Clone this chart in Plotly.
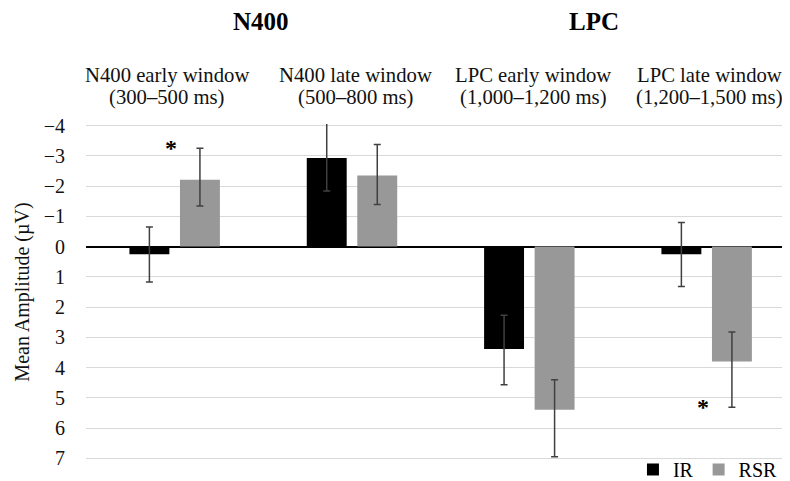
import plotly.graph_objects as go

categories = ["N400 early", "N400 late", "LPC early", "LPC late"]
cat_line1 = ["N400 early window", "N400 late window", "LPC early window", "LPC late window"]
cat_line2 = ["(300\u2013500 ms)", "(500\u2013800 ms)", "(1,000\u20131,200 ms)", "(1,200\u20131,500 ms)"]
ir_values = [0.25, -2.93, 3.38, 0.25]
ir_neg_end = [-0.65, -4.3, 2.27, -0.80]
ir_pos_end = [1.17, -1.84, 4.56, 1.32]
rsr_values = [-2.21, -2.35, 5.39, 3.80]
rsr_neg_end = [-3.25, -3.37, 4.40, 2.82]
rsr_pos_end = [-1.34, -1.39, 6.94, 5.31]
tick_values = [-4, -3, -2, -1, 0, 1, 2, 3, 4, 5, 6, 7]
group_titles = ["N400", "LPC"]
star_points = [("N400 early", -3.39), ("LPC late", 5.17)]

FONT = "Liberation Serif"
ERR_COLOR = "#404040"

# page body has an 8px margin: work in figure coordinates = reference - 8
OFF = 8
W, H = 790 - OFF, 481 - OFF
top_px, bot_px = 124 - OFF, 460.5 - OFF
left_px = 86 - OFF


def paper_y(ref_px):
    px = ref_px - OFF
    return (bot_px - px) / (bot_px - top_px)


def err(vals, neg, pos):
    return dict(type="data", symmetric=False,
                array=[p - v for v, p in zip(vals, pos)],
                arrayminus=[v - n for v, n in zip(vals, neg)],
                color=ERR_COLOR, thickness=1.5, width=3.5)


fig = go.Figure()
fig.add_trace(go.Bar(name="IR", x=categories, y=ir_values, marker_color="#000000",
                     marker_line_width=0, error_y=err(ir_values, ir_neg_end, ir_pos_end)))
fig.add_trace(go.Bar(name="RSR", x=categories, y=rsr_values, marker_color="#989898",
                     marker_line_width=0, error_y=err(rsr_values, rsr_neg_end, rsr_pos_end)))

annotations = []
shifts = [-8, 4, 4, 3]
for c, l1, l2, s in zip(categories, cat_line1, cat_line2, shifts):
    for txt, ypx in ((l1, 75), (l2, 97)):
        annotations.append(dict(x=c, y=paper_y(ypx), xref="x", yref="paper", text=txt, showarrow=False,
                                xshift=s, yanchor="middle",
                                font=dict(family=FONT, size=20.7, color="#111")))
annotations.append(dict(x=0.5, xref="x", y=paper_y(21), yref="paper", text="<b>" + group_titles[0] + "</b>",
                        showarrow=False, xshift=-2, yanchor="middle",
                        font=dict(family=FONT, size=25, color="#000")))
annotations.append(dict(x=2.5, xref="x", y=paper_y(21), yref="paper", text="<b>" + group_titles[1] + "</b>",
                        showarrow=False, xshift=-24, yanchor="middle",
                        font=dict(family=FONT, size=25, color="#000")))
for c, yv in star_points:
    annotations.append(dict(x=c, y=yv, xref="x", yref="y", text="<b>*</b>", showarrow=False,
                            xshift=-4, yshift=-4, font=dict(family=FONT, size=24, color="#000")))

fig.update_layout(
    width=W, height=H,
    margin=dict(l=left_px, r=0, t=top_px, b=H - bot_px, autoexpand=False),
    paper_bgcolor="white", plot_bgcolor="white",
    barmode="group", bargap=0.43, bargroupgap=0.21,
    font=dict(family=FONT, size=20, color="#111"),
    showlegend=True,
    legend=dict(orientation="h", x=0.99, xanchor="right", y=paper_y(470), yanchor="middle",
                font=dict(family=FONT, size=20, color="#000"), itemwidth=30,
                bgcolor="rgba(0,0,0,0)", tracegroupgap=0, itemsizing="constant"),
    annotations=annotations,
    xaxis=dict(range=[-0.5, 3.47], showticklabels=False, showgrid=False, zeroline=False,
               showline=False, ticks=""),
    yaxis=dict(range=[7.05, -4.05], tickvals=tick_values, showgrid=True, gridcolor="#d9d9d9",
               gridwidth=1, zeroline=True, zerolinecolor="#000000", zerolinewidth=1.5,
               showline=False, ticks="", ticklabelstandoff=20,
               tickfont=dict(family=FONT, size=20, color="#111"),
               title=dict(text="Mean Amplitude (\u00b5V)", standoff=8,
                          font=dict(family=FONT, size=20, color="#111"))),
)

fig.write_html("out.html")
